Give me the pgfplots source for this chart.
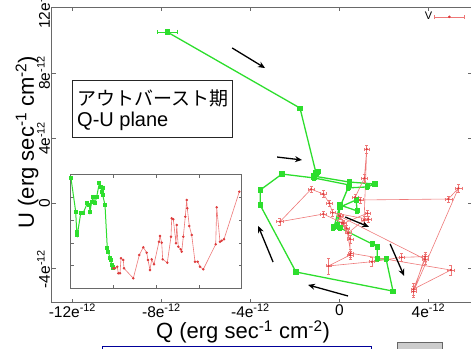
\documentclass[border=0pt]{standalone}
\usepackage{pgfplots}
\pgfplotsset{compat=1.18}
\usepackage{pgfplotstable}
\usepackage{fontspec}
\setmainfont{Liberation Sans}
\newfontfamily\jpfont{Noto Sans CJK JP}
\usetikzlibrary{arrows.meta}
\definecolor{gline}{RGB}{45,222,45}
\definecolor{rline}{RGB}{238,120,120}
\definecolor{rmark}{RGB}{222,60,60}
\definecolor{axgray}{RGB}{105,105,105}

\pgfplotstableread{
x y ex ey
-7.74 10.51 0.45 0.10
-1.77 5.85 0.08 0.12
-1.05 1.87 0.08 0.12
-0.96 1.94 0.08 0.12
-1.18 1.69 0.08 0.12
0.44 1.32 0.08 0.12
1.60 1.20 0.08 0.12
1.25 1.02 0.08 0.12
0.39 0.96 0.08 0.12
0.03 -0.21 0.08 0.12
0.75 0.22 0.08 0.12
0.80 -0.45 0.08 0.12
0.03 -0.09 0.08 0.12
-0.24 -1.43 0.08 0.12
0.03 -1.49 0.08 0.12
1.47 -2.47 0.08 0.12
1.70 -2.66 0.08 0.12
1.70 -3.39 0.08 0.12
2.10 -3.39 0.08 0.12
2.41 -5.36 0.08 0.12
-1.95 -4.19 0.08 0.12
-3.56 -0.09 0.08 0.12
-3.56 0.83 0.08 0.12
-2.58 1.81 0.08 0.12
-1.14 1.57 0.08 0.12
0.44 1.14 0.08 0.12
0.03 -0.21 0.08 0.12
-0.10 -1.31 0.08 0.12
-0.28 -1.49 0.08 0.12
}\greenmain

\pgfplotstableread{
x y ex ey
0.03 -0.76 0.12 0.20
0.39 -1.80 0.12 0.25
1.11 -1.00 0.12 0.20
1.23 3.33 0.12 0.25
1.12 1.55 0.12 0.25
0.71 0.39 0.12 0.20
0.93 0.22 0.12 0.20
4.90 0.28 0.15 0.20
5.35 0.94 0.15 0.25
3.33 -5.39 0.12 0.35
3.85 -3.25 0.12 0.30
2.80 -3.29 0.12 0.25
1.46 -3.56 0.12 0.25
-0.49 -3.82 0.12 0.50
0.48 -3.15 0.12 0.25
0.48 -2.17 0.12 0.25
0.11 -1.17 0.12 0.20
-0.72 -0.64 0.12 0.20
-2.67 -1.11 0.15 0.20
-1.27 0.88 0.12 0.20
-0.72 0.59 0.12 0.20
-0.45 0.02 0.12 0.20
-0.30 -0.56 0.12 0.20
1.30 -0.96 0.12 0.20
1.26 -0.59 0.12 0.20
0.18 -1.21 0.12 0.20
0.33 -1.51 0.12 0.20
0.51 -3.04 0.12 0.25
5.01 -4.07 0.15 0.30
3.33 -5.24 0.12 0.35
3.85 -3.41 0.12 0.30
0.00 -0.76 0.12 0.20
}\redmain

\pgfplotstableread{
t f
71 178.3
75.7 211.7
76.7 231.7
77.3 235
80.7 213.3
83.3 212.7
87.3 203.3
89.3 205
90 211.7
91.7 201.7
93.3 196.7
95 203.3
96.7 196.7
99.3 183.3
100.7 186.7
101.7 191.7
103.3 188.3
102.7 195
105 205
107.3 248.3
108.3 251.7
110 258.3
110.7 260
111.7 265
112.7 266.7
113.3 268.3
}\greeninset

\pgfplotstableread{
t f
113.3 268.3
115 268.3
117.3 266.7
118.3 273.3
120 273.3
121 258.3
123.3 260
124 268.3
133.3 278.3
139.3 255
143.3 247.3
146.7 252.7
148 260
150 270
151.7 259.3
154 264.3
159 241.7
160 236
161.7 242.7
162.7 259.3
167.3 262.7
171 236.7
171.7 218.3
173.3 219.3
176 243.3
176.7 225
178.3 246.7
180.7 249.3
181.7 251.7
183.3 236.7
185.3 216.7
186.7 200
187.3 208.3
189.3 226
191.7 235
195 261.7
197.7 261.7
200 266.7
203.3 269.3
215.7 244.3
216.7 207.3
220 241.7
221.7 240.7
224 239.3
239.3 191.7
}\redinset

\begin{document}
\begin{tikzpicture}[x=1pt,y=1pt]
\useasboundingbox (0,0) rectangle (471,348);
\begin{axis}[
  at={(51.7pt,45.3pt)}, anchor=south west,
  scale only axis, width=420.5pt, height=295.4pt,
  xmin=-12.93, xmax=5.97, ymin=-6.07, ymax=12.02,
  xtick={-12,-8,-4,0,4},
  xticklabels={-12e\textsuperscript{-12},-8e\textsuperscript{-12},-4e\textsuperscript{-12},0,4e\textsuperscript{-12}},
  ytick={-4,0,4,8,12},
  yticklabels={-4e\textsuperscript{-12},0,4e\textsuperscript{-12},8e\textsuperscript{-12},12e\textsuperscript{-12}},
  tick align=inside, major tick length=4pt,
  tick style={axgray, line width=0.8pt},
  axis line style={axgray, line width=1.2pt},
  ticklabel style={font=\fontsize{15.5}{16}\selectfont},
  xticklabel style={anchor=north, inner sep=1.5pt},
  yticklabel style={rotate=90, anchor=south, inner sep=1.5pt},
  xlabel={Q (erg sec\textsuperscript{-1} cm\textsuperscript{-2})},
  ylabel={U (erg sec\textsuperscript{-1} cm\textsuperscript{-2})},
  xlabel style={at={(axis description cs:0.455,-0.099)}, anchor=center, font=\fontsize{22}{24}\selectfont},
  ylabel style={at={(axis description cs:-0.0587,0.544)}, anchor=center, font=\fontsize{22}{24}\selectfont},
  legend plot pos=right,
  legend style={at={(axis description cs:0.985,0.994)}, anchor=north east, draw=none, fill=none,
    font=\fontsize{11}{12}\selectfont, inner sep=1pt},
]
\addplot[gline, line width=1.3pt, mark=square*, mark size=1.9pt, forget plot,
  error bars/.cd, x dir=both, y dir=both, x explicit, y explicit,
  error bar style={gline, line width=0.7pt}, error mark options={rotate=90, mark size=2pt, gline}]
  table[x=x, y=y, x error=ex, y error=ey] {\greenmain};
\addplot[rline, line width=0.6pt, mark=*, mark size=0.8pt, mark options={rmark, fill=rmark}, forget plot,
  error bars/.cd, x dir=both, y dir=both, x explicit, y explicit,
  error bar style={rline, line width=0.5pt}, error mark options={rotate=90, mark size=1.5pt, rline}]
  table[x=x, y=y, x error=ex, y error=ey] {\redmain};
\addlegendimage{legend image code/.code={
  \draw[rline, line width=0.6pt] (0pt,0pt) -- (30pt,0pt);
  \draw[rline, line width=0.6pt] (0pt,-2pt) -- (0pt,2pt) (30pt,-2pt) -- (30pt,2pt);
  \fill[rmark] (15pt,0pt) circle (1.1pt);}}
\addlegendentry{V}
\draw[-{Stealth[length=7pt,width=6pt]}, line width=1.3pt] (axis cs:-4.82,9.53) -- (axis cs:-3.34,8.30);
\draw[-{Stealth[length=7pt,width=6pt]}, line width=1.3pt] (axis cs:-2.80,2.85) -- (axis cs:-1.68,2.67);
\draw[-{Stealth[length=7pt,width=6pt]}, line width=1.3pt] (axis cs:0.26,-0.82) -- (axis cs:1.33,-1.43);
\draw[-{Stealth[length=7pt,width=6pt]}, line width=1.3pt] (axis cs:2.28,-2.47) -- (axis cs:2.91,-4.43);
\draw[-{Stealth[length=7pt,width=6pt]}, line width=1.3pt] (axis cs:0.39,-5.66) -- (axis cs:-1.41,-4.98);
\draw[-{Stealth[length=7pt,width=6pt]}, line width=1.3pt] (axis cs:-2.98,-3.58) -- (axis cs:-3.65,-1.37);
\end{axis}

\begin{axis}[
  at={(70.7pt,59.7pt)}, anchor=south west,
  scale only axis, width=171pt, height=113.3pt,
  xmin=70.7, xmax=241.7, ymin=175, ymax=288.3, y dir=reverse,
  xtick={113.45,156.2,198.95}, ytick={197.7,220.3,243,265.7},
  xticklabels={}, yticklabels={},
  tick align=inside, major tick length=3pt,
  tick style={axgray, line width=0.7pt},
  axis line style={axgray, line width=1pt},
  axis background/.style={fill=white},
]
\addplot[gline, line width=1pt, mark=square*, mark size=1.6pt] table[x=t, y=f] {\greeninset};
\addplot[rline, line width=0.6pt, mark=*, mark size=0.9pt, mark options={rmark, fill=rmark}] table[x=t, y=f] {\redinset};
\end{axis}

\draw[black!85, line width=0.8pt, fill=white] (72,211) rectangle (232,268);
\node[anchor=base west, inner sep=0pt, font=\fontsize{19}{20}\selectfont] at (77,242) {\jpfont アウトバースト期};
\node[anchor=base west, inner sep=0pt, font=\fontsize{20}{22}\selectfont] at (77,221) {Q-U plane};

\draw[blue!60!black, line width=0.8pt] (102,-2) -- (102,2) -- (371,2) -- (371,-2);
\draw[black!60, line width=0.8pt, fill=black!20] (397,-4) rectangle (442,6);
\end{tikzpicture}
\end{document}
